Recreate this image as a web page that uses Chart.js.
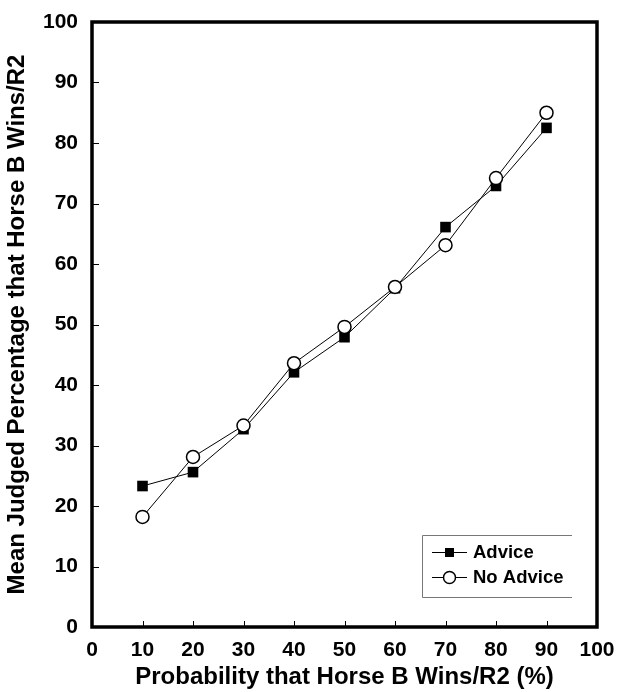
<!DOCTYPE html>
<html>
<head>
<meta charset="utf-8">
<script src="https://cdn.jsdelivr.net/npm/chart.js@4.4.1/dist/chart.umd.min.js"></script>
<style>
    html, body { margin: 0; padding: 0; background: #fff; }
    #wrap { width: 626px; height: 692px; }
</style>
</head>
<body>
<div id="wrap"><canvas id="chart" width="626" height="692"></canvas></div>
<script>
/* =====================================
   DATA
===================================== */

const probabilities = [10, 20, 30, 40, 50, 60, 70, 80, 90];
const adviceValues = [23.3, 25.6, 32.7, 42.1, 47.9, 56.0, 66.1, 72.9, 82.5];
const noAdviceValues = [18.2, 28.1, 33.3, 43.6, 49.6, 56.2, 63.1, 74.2, 85.0];
const tickValues = [0, 10, 20, 30, 40, 50, 60, 70, 80, 90, 100];
const seriesLabels = ["Advice", "No Advice"];

const FONT = "'Liberation Sans', Arial, Helvetica, sans-serif";

function toPoints(values) {
    return probabilities.map((p, i) => ({ x: p, y: values[i] }));
}

/* =====================================
   FRAME + INSIDE TICKS
===================================== */

const framePlugin = {
    id: "frame",
    beforeDatasetsDraw(chart) {
        const ctx = chart.ctx;
        const a = chart.chartArea;
        const xs = chart.scales.x;
        const ys = chart.scales.y;

        ctx.save();
        ctx.strokeStyle = "#000";
        ctx.lineWidth = 1;
        ctx.beginPath();
        tickValues.forEach(v => {
            const px = Math.round(xs.getPixelForValue(v)) + 0.5;
            ctx.moveTo(px, a.bottom);
            ctx.lineTo(px, a.bottom - 6);
            const py = Math.round(ys.getPixelForValue(v)) + 0.5;
            ctx.moveTo(a.left, py);
            ctx.lineTo(a.left + 7, py);
        });
        ctx.stroke();

        ctx.lineWidth = 3.5;
        ctx.strokeRect(a.left, a.top, a.right - a.left, a.bottom - a.top);
        ctx.restore();
    }
};

/* =====================================
   LEGEND BOX
===================================== */

const legendPlugin = {
    id: "boxLegend",
    afterDraw(chart) {
        const ctx = chart.ctx;
        const left = 422, top = 535, right = 572, bottom = 597;

        ctx.save();
        ctx.strokeStyle = "#777";
        ctx.lineWidth = 1;
        ctx.beginPath();
        ctx.moveTo(right, top + 0.5);
        ctx.lineTo(left + 0.5, top + 0.5);
        ctx.lineTo(left + 0.5, bottom + 0.5);
        ctx.lineTo(right, bottom + 0.5);
        ctx.stroke();

        const rows = [552, 577];
        rows.forEach((y, i) => {
            ctx.strokeStyle = "#000";
            ctx.lineWidth = 1;
            ctx.beginPath();
            ctx.moveTo(432, y + 0.5);
            ctx.lineTo(467, y + 0.5);
            ctx.stroke();

            if (i === 0) {
                ctx.fillStyle = "#000";
                ctx.fillRect(445, y - 4, 9, 9);
            } else {
                ctx.fillStyle = "#fff";
                ctx.lineWidth = 1.5;
                ctx.beginPath();
                ctx.arc(449.5, y + 0.5, 6, 0, Math.PI * 2);
                ctx.fill();
                ctx.stroke();
            }

            ctx.fillStyle = "#000";
            ctx.font = "bold 18.5px " + FONT;
            ctx.textBaseline = "middle";
            ctx.textAlign = "left";
            ctx.fillText(seriesLabels[i], 473, y + 1);
        });
        ctx.restore();
    }
};

/* =====================================
   CHART
===================================== */

const chart = new Chart(document.getElementById("chart"), {
    type: "line",
    data: {
        datasets: [
            {
                label: seriesLabels[0],
                data: toPoints(adviceValues),
                borderColor: "#000",
                borderWidth: 1,
                backgroundColor: "#000",
                pointStyle: "rect",
                pointRadius: 7.5,
                pointBorderWidth: 0,
                pointBackgroundColor: "#000",
                tension: 0,
                order: 2
            },
            {
                label: seriesLabels[1],
                data: toPoints(noAdviceValues),
                borderColor: "#000",
                borderWidth: 1,
                pointStyle: "circle",
                pointRadius: 6.5,
                pointBorderWidth: 1.5,
                pointBorderColor: "#000",
                pointBackgroundColor: "#fff",
                tension: 0,
                order: 1
            }
        ]
    },
    options: {
        responsive: false,
        animation: false,
        layout: { padding: { top: 22, right: 29, left: 0, bottom: 0 } },
        plugins: {
            legend: { display: false },
            tooltip: { enabled: false }
        },
        scales: {
            x: {
                type: "linear",
                min: 0,
                max: 100,
                afterBuildTicks: s => { s.ticks = tickValues.map(v => ({ value: v })); },
                afterFit: s => {
                    s.height = 65;
                    s.paddingLeft = 0;
                    s.paddingRight = 0;
                },
                grid: { display: false, drawTicks: false },
                border: { display: false },
                ticks: {
                    color: "#000",
                    padding: 11,
                    maxRotation: 0,
                    font: { family: FONT, size: 21, weight: "bold" }
                },
                title: {
                    display: true,
                    text: "Probability that Horse B Wins/R2 (%)",
                    color: "#000",
                    padding: { top: 0, bottom: 0 },
                    font: { family: FONT, size: 24, weight: "bold" }
                }
            },
            y: {
                type: "linear",
                min: 0,
                max: 100,
                afterBuildTicks: s => { s.ticks = tickValues.map(v => ({ value: v })); },
                afterFit: s => {
                    s.width = 92;
                    s.paddingTop = 0;
                    s.paddingBottom = 0;
                },
                grid: { display: false, drawTicks: false },
                border: { display: false },
                ticks: {
                    color: "#000",
                    padding: 14,
                    font: { family: FONT, size: 21, weight: "bold" }
                },
                title: {
                    display: true,
                    text: "Mean Judged Percentage that Horse B Wins/R2",
                    color: "#000",
                    padding: { top: 3, bottom: 0 },
                    font: { family: FONT, size: 24, weight: "bold" }
                }
            }
        }
    },
    plugins: [framePlugin, legendPlugin]
});
</script>
</body>
</html>
